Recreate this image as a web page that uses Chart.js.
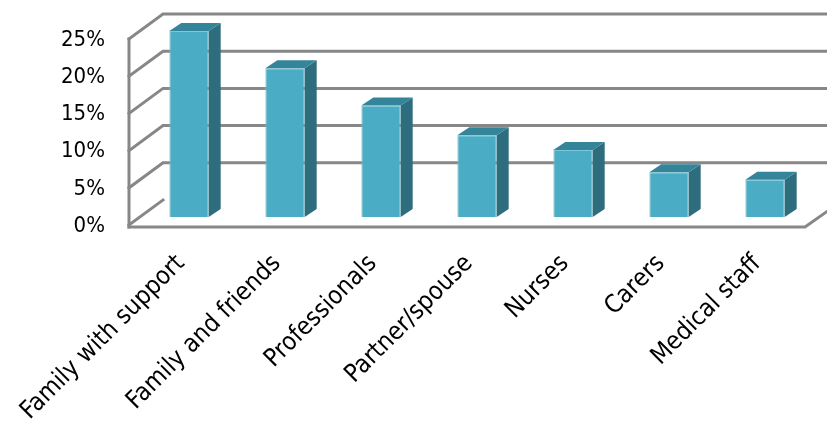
<!DOCTYPE html>
<html>
<head>
<meta charset="utf-8">
<script src="https://cdn.jsdelivr.net/npm/chart.js@4"></script>
<style>
  html, body { margin: 0; padding: 0; background: #fff; }
  #wrap { width: 827px; height: 424px; }
</style>
</head>
<body>
<div id="wrap"><canvas id="chart"></canvas></div>
<script>
const categories = ['Family with support', 'Family and friends', 'Professionals', 'Partner/spouse', 'Nurses', 'Carers', 'Medical staff'];
const shares = [25, 20, 15, 11, 9, 6, 5];
const yTicks = [0, 5, 10, 15, 20, 25];

const FONT = '"DejaVu Sans Condensed", "DejaVu Sans", sans-serif';
const GRID = '#878787';
// depth of a bar block and of the whole box, in px
const BAR_DX = 12, BAR_DY = -8;
const BACK_DX = 22, BACK_DY = -17;
const FRONT_DX = -12, FRONT_DY = 8;

// walls, floor and gridlines behind the bars
const walls = {
  id: 'walls',
  beforeDatasetsDraw(chart) {
    const { ctx, chartArea, scales: { y } } = chart;
    const W = chart.width;
    const fl = chartArea.left + FRONT_DX, bl = chartArea.left + BACK_DX;
    const fr = chartArea.right - 8;
    ctx.save();
    ctx.strokeStyle = GRID;
    ctx.lineWidth = 3;
    ctx.lineCap = 'square';
    yTicks.forEach(v => {
      const p = y.getPixelForValue(v);
      ctx.beginPath();
      ctx.moveTo(fl, p + FRONT_DY);
      ctx.lineTo(bl, p + BACK_DY);
      if (v > 0) ctx.lineTo(W + 2, p + BACK_DY);
      ctx.stroke();
    });
    // front edge of the side wall
    ctx.beginPath();
    ctx.moveTo(fl, y.getPixelForValue(25) + FRONT_DY);
    ctx.lineTo(fl, y.getPixelForValue(0) + FRONT_DY + 2);
    ctx.stroke();
    // floor
    const f0 = y.getPixelForValue(0) + FRONT_DY + 2;
    ctx.beginPath();
    ctx.moveTo(fl, f0);
    ctx.lineTo(fr, f0);
    ctx.lineTo(fr + 34, f0 - 24);
    ctx.stroke();
    ctx.restore();
  },
  afterDatasetsDraw(chart) {
    const { ctx } = chart;
    const meta = chart.getDatasetMeta(0);
    ctx.save();
    meta.data.forEach(bar => {
      const { x, y, base, width } = bar.getProps(['x', 'y', 'base', 'width'], true);
      const x0 = x - width / 2, x1 = x + width / 2;
      // side face
      ctx.fillStyle = '#2e6d7d';
      ctx.beginPath();
      ctx.moveTo(x1, y);
      ctx.lineTo(x1 + BAR_DX, y + BAR_DY);
      ctx.lineTo(x1 + BAR_DX, base + BAR_DY);
      ctx.lineTo(x1, base);
      ctx.closePath();
      ctx.fill();
      // top face
      ctx.fillStyle = '#34849a';
      ctx.beginPath();
      ctx.moveTo(x0, y);
      ctx.lineTo(x0 + BAR_DX, y + BAR_DY);
      ctx.lineTo(x1 + BAR_DX, y + BAR_DY);
      ctx.lineTo(x1, y);
      ctx.closePath();
      ctx.fill();
    });
    ctx.restore();
  }
};

new Chart(document.getElementById('chart'), {
  type: 'bar',
  data: {
    labels: categories,
    datasets: [{
      data: shares,
      backgroundColor: '#4bacc6',
      borderColor: '#7cc9dc',
      borderWidth: 1,
      barPercentage: 0.41,
      categoryPercentage: 1
    }]
  },
  options: {
    responsive: true,
    maintainAspectRatio: false,
    animation: false,
    layout: { padding: { top: 31, right: 14, left: 0, bottom: 0 } },
    plugins: { legend: { display: false }, tooltip: { enabled: false } },
    scales: {
      x: {
        grid: { display: false, drawTicks: false },
        border: { display: false },
        ticks: {
          color: '#000',
          font: { family: FONT, size: 25 },
          minRotation: 45,
          maxRotation: 45,
          autoSkip: false,
          padding: 32,
          labelOffset: -8
        },
        afterFit(scale) {
          scale.height = 207;
          scale.paddingLeft = 0;
          scale.paddingRight = 0;
        }
      },
      y: {
        min: 0,
        max: 25,
        grid: { display: false, drawTicks: false },
        border: { display: false },
        ticks: {
          stepSize: 5,
          color: '#000',
          font: { family: FONT, size: 22 },
          padding: 36,
          labelOffset: 9,
          callback: v => v + '%'
        },
        afterFit(scale) {
          scale.width = 141;
          scale.paddingTop = 0;
          scale.paddingBottom = 0;
        }
      }
    }
  },
  plugins: [walls]
});
</script>
</body>
</html>
